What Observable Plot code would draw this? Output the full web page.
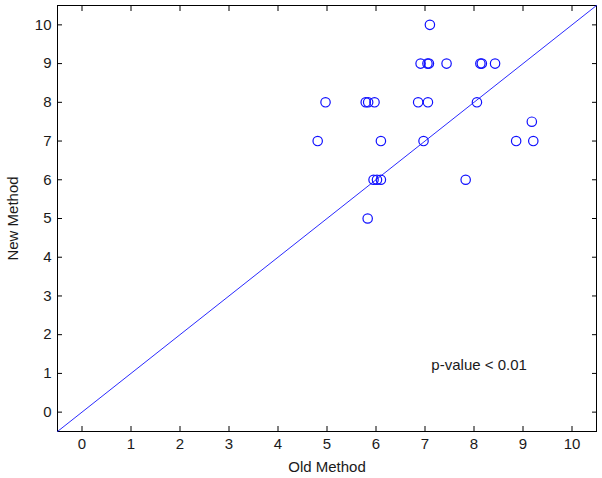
<!DOCTYPE html>
<html>
<head>
<meta charset="utf-8">
<script src="https://cdn.jsdelivr.net/npm/d3@7"></script>
<script src="https://cdn.jsdelivr.net/npm/@observablehq/plot@0.6"></script>
<style>
  html, body { margin: 0; padding: 0; background: #fff; }
  #chart svg { display: block; }
</style>
</head>
<body>
<div id="chart"></div>
<script>
const oldMethod = [7.10, 6.91, 7.05, 7.08, 7.44, 8.13, 8.16, 8.43,
                   4.97, 5.79, 5.84, 5.97, 6.86, 7.06, 8.06,
                   9.18,
                   4.81, 6.10, 6.97, 8.86, 9.21,
                   5.95, 6.02, 6.10, 7.83,
                   5.83];
const newMethod = [10, 9, 9, 9, 9, 9, 9, 9,
                   8, 8, 8, 8, 8, 8, 8,
                   7.5,
                   7, 7, 7, 7, 7,
                   6, 6, 6, 6,
                   5];
const xTicks = [0, 1, 2, 3, 4, 5, 6, 7, 8, 9, 10];
const yTicks = [0, 1, 2, 3, 4, 5, 6, 7, 8, 9, 10];
const axisDomain = [-0.5, 10.5];
const annotation = [{x: 7.13, y: 1.2, label: "p-value < 0.01"}];

const points = oldMethod.map((x, i) => ({x, y: newMethod[i]}));

const ink = "#1a1a1a";
const chart = Plot.plot({
  width: 602,
  height: 478,
  marginLeft: 57,
  marginRight: 6,
  marginTop: 5,
  marginBottom: 47,
  style: {fontFamily: "'Liberation Sans', Arial, sans-serif", fontSize: "15px", color: ink, background: "#fff"},
  x: {domain: axisDomain},
  y: {domain: axisDomain},
  marks: [
    Plot.frame({stroke: "black", strokeWidth: 1}),
    Plot.axisX(xTicks, {anchor: "bottom", tickSize: 0, tickPadding: 7, label: "Old Method", labelAnchor: "center", labelArrow: "none", labelOffset: 40, fill: ink}),
    Plot.axisX(xTicks, {anchor: "bottom", tickSize: -5, tickFormat: () => "", label: null, stroke: "black"}),
    Plot.axisX(xTicks, {anchor: "top", tickSize: -5, tickFormat: () => "", label: null, stroke: "black"}),
    Plot.axisY(yTicks, {anchor: "left", tickSize: 0, tickPadding: 6, label: "New Method", labelAnchor: "center", labelArrow: "none", labelOffset: 50, fill: ink}),
    Plot.axisY(yTicks, {anchor: "left", tickSize: -5, tickFormat: () => "", label: null, stroke: "black"}),
    Plot.axisY(yTicks, {anchor: "right", tickSize: -5, tickFormat: () => "", label: null, stroke: "black"}),
    Plot.line(axisDomain, {x: d => d, y: d => d, stroke: "#2a2aff", strokeWidth: 1}),
    Plot.dot(points, {x: "x", y: "y", r: 4.7, stroke: "#1010ff", strokeWidth: 1.2, fill: "none"}),
    Plot.text(annotation, {x: "x", y: "y", text: "label", textAnchor: "start", lineAnchor: "middle", fill: ink, fontSize: 15})
  ]
});
document.getElementById("chart").appendChild(chart);
</script>
</body>
</html>
